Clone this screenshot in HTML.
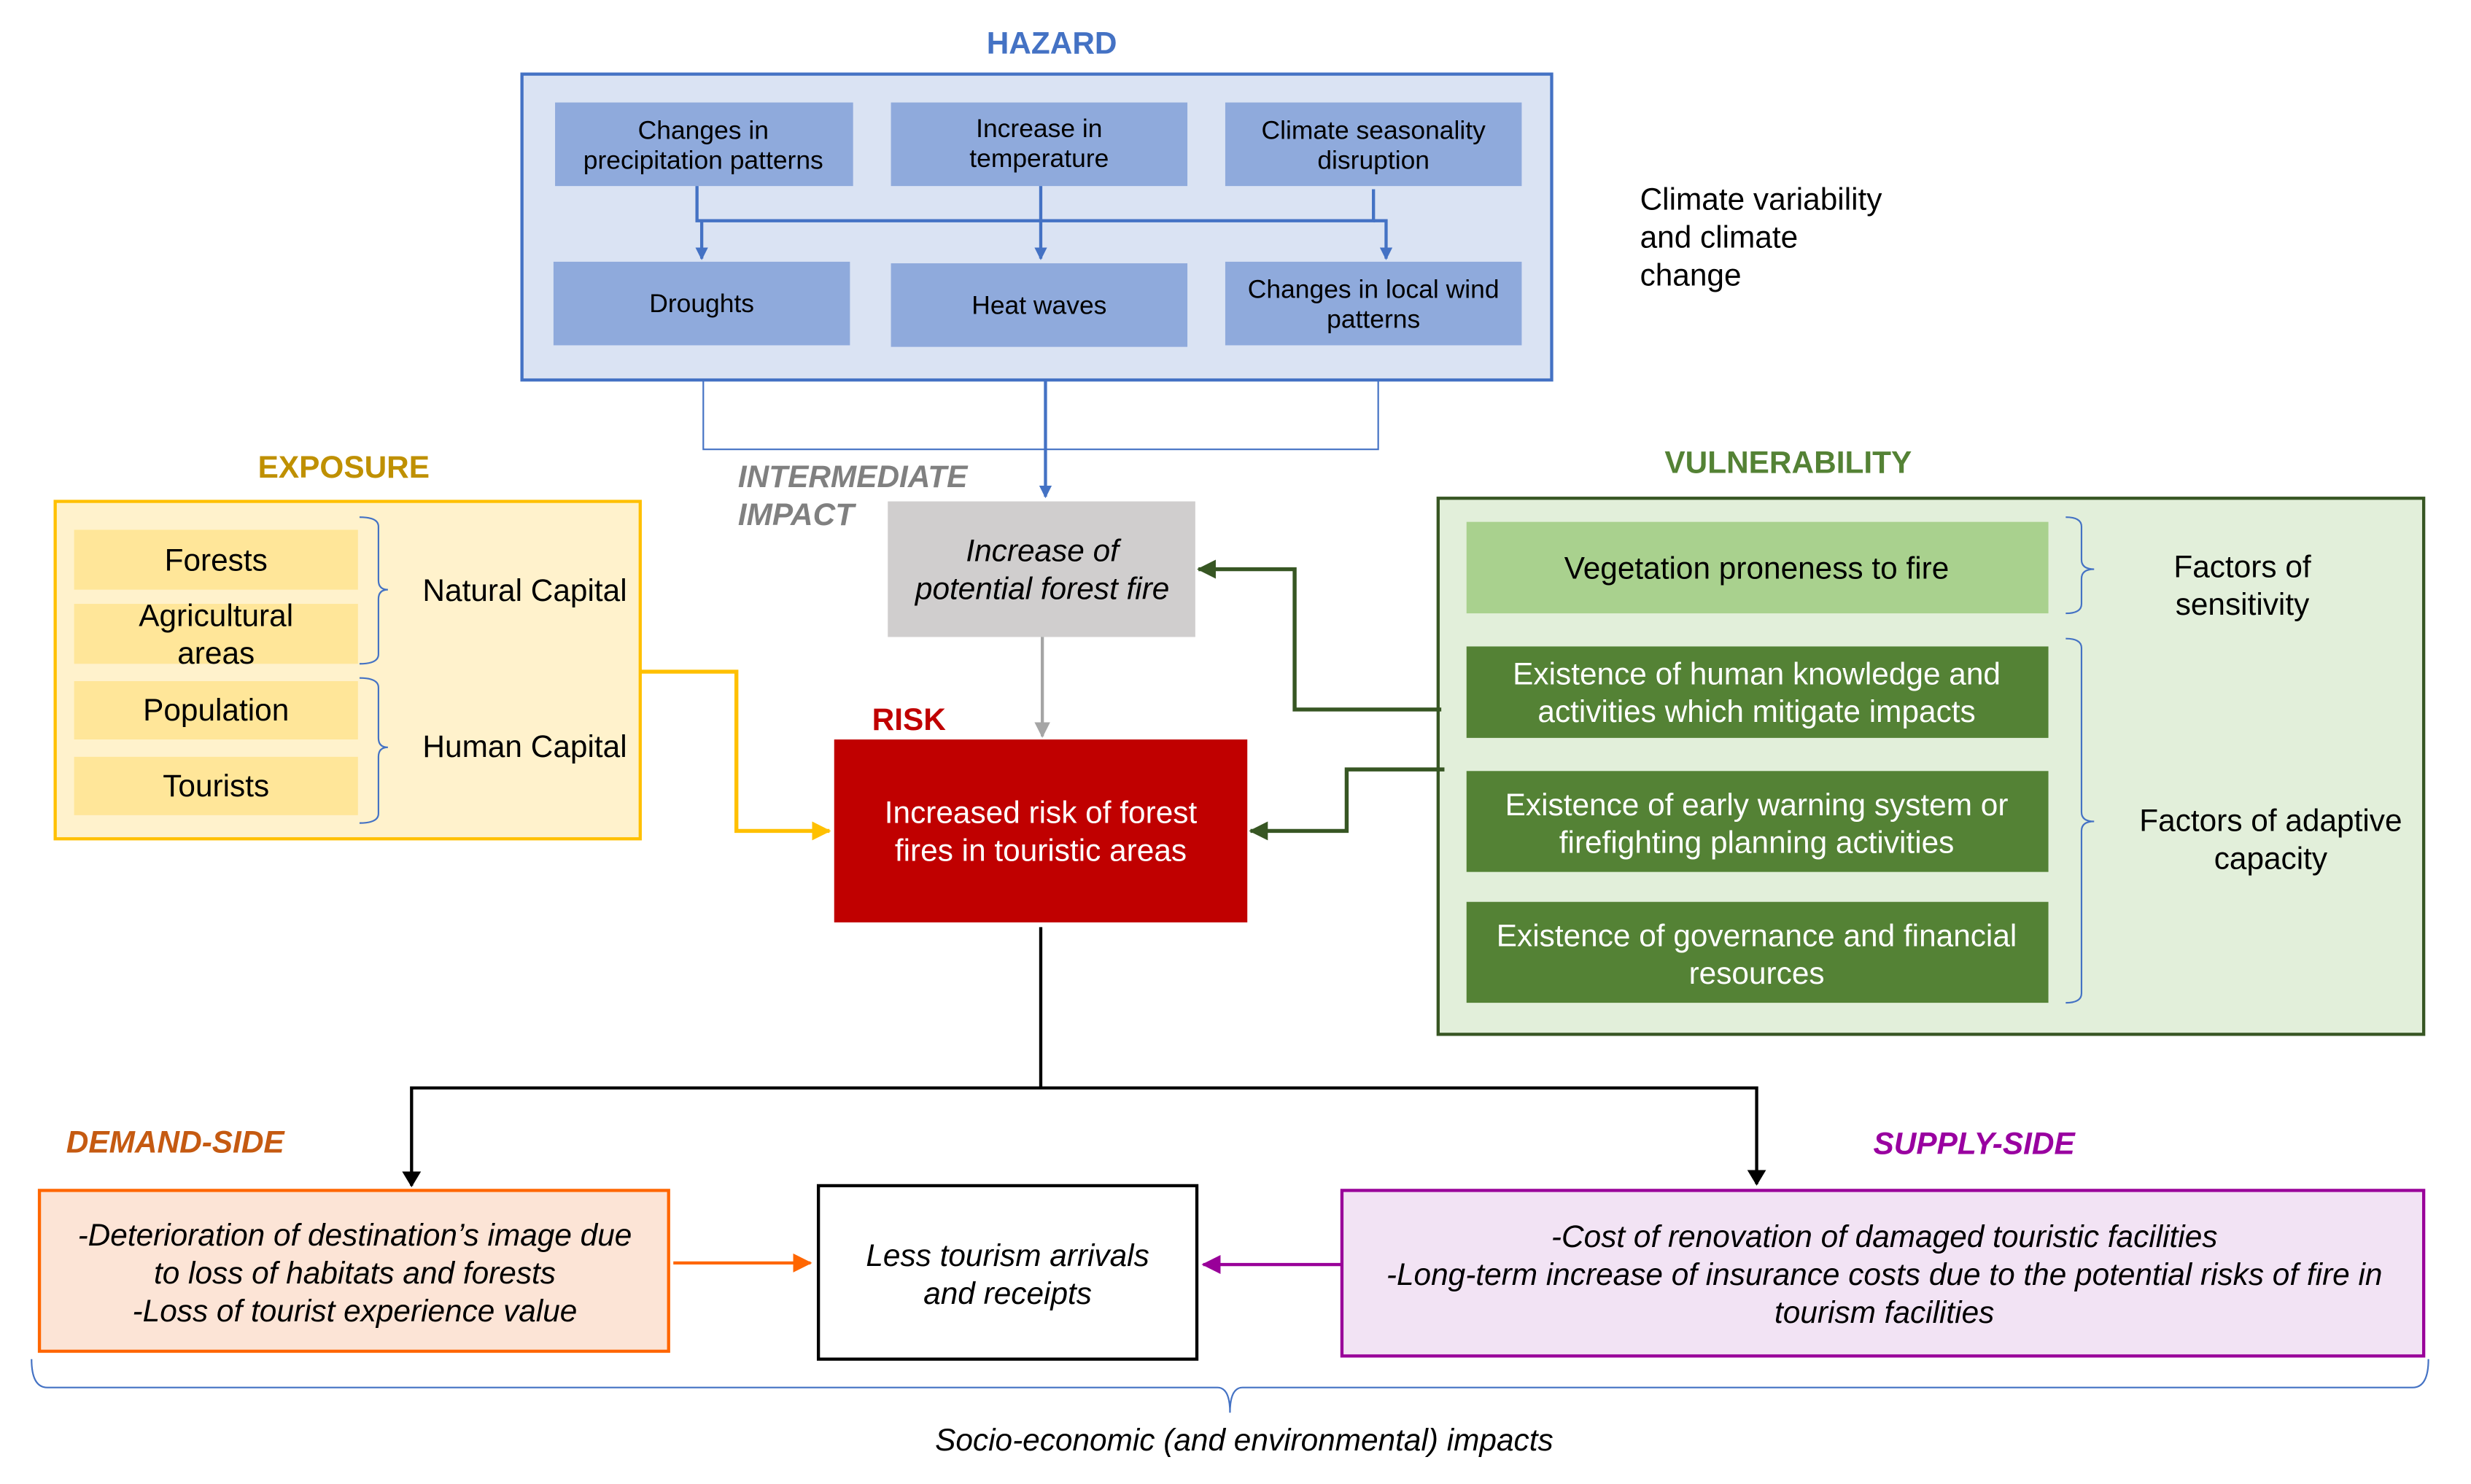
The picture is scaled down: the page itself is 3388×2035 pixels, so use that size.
<!DOCTYPE html>
<html><head><meta charset="utf-8"><style>
html,body{margin:0;padding:0;background:#fff;}
svg{display:block;}
text{font-family:"Liberation Sans",sans-serif;}
</style></head><body>
<svg width="3388" height="2035" viewBox="0 0 1567 941.2" preserveAspectRatio="none" xmlns="http://www.w3.org/2000/svg">
<defs>
<marker id="ab" markerWidth="8" markerHeight="8" refX="7" refY="4" orient="auto" markerUnits="userSpaceOnUse"><path d="M0,0 L8,4 L0,8 z" fill="#4472C4"/></marker>
<marker id="ag" markerWidth="10" markerHeight="10" refX="9" refY="5" orient="auto" markerUnits="userSpaceOnUse"><path d="M0,0 L10,5 L0,10 z" fill="#A5A5A5"/></marker>
<marker id="ay" markerWidth="12" markerHeight="12" refX="11" refY="6" orient="auto" markerUnits="userSpaceOnUse"><path d="M0,0 L12,6 L0,12 z" fill="#FFC000"/></marker>
<marker id="adg" markerWidth="12" markerHeight="12" refX="11" refY="6" orient="auto" markerUnits="userSpaceOnUse"><path d="M0,0 L12,6 L0,12 z" fill="#375623"/></marker>
<marker id="ak" markerWidth="10" markerHeight="12" refX="9" refY="6" orient="auto" markerUnits="userSpaceOnUse"><path d="M0,0 L10,6 L0,12 z" fill="#000"/></marker>
<marker id="ao" markerWidth="12" markerHeight="12" refX="11" refY="6" orient="auto" markerUnits="userSpaceOnUse"><path d="M0,0 L12,6 L0,12 z" fill="#FF6600"/></marker>
<marker id="ap" markerWidth="12" markerHeight="12" refX="11" refY="6" orient="auto" markerUnits="userSpaceOnUse"><path d="M0,0 L12,6 L0,12 z" fill="#990099"/></marker>
</defs>

<!-- HAZARD -->
<text x="667" y="34" text-anchor="middle" font-size="19.6" font-weight="bold" fill="#4472C4">HAZARD</text>
<rect x="331" y="47" width="653" height="194" fill="#DAE3F3" stroke="#4472C4" stroke-width="2"/>
<g fill="#8FAADC">
<rect x="352" y="65" width="189" height="53"/><rect x="565" y="65" width="188" height="53"/><rect x="777" y="65" width="188" height="53"/>
<rect x="351" y="166" width="188" height="53"/><rect x="565" y="167" width="188" height="53"/><rect x="777" y="166" width="188" height="53"/>
</g>
<g font-size="16.4" text-anchor="middle" fill="#000">
<text x="446" y="88">Changes in</text><text x="446" y="107">precipitation patterns</text>
<text x="659" y="87">Increase in</text><text x="659" y="106">temperature</text>
<text x="871" y="88">Climate seasonality</text><text x="871" y="107">disruption</text>
<text x="445" y="198">Droughts</text>
<text x="659" y="199">Heat waves</text>
<text x="871" y="189">Changes in local wind</text><text x="871" y="208">patterns</text>
</g>
<g stroke="#4472C4" stroke-width="2" fill="none">
<path d="M442,118 V140 H871 V120"/>
<path d="M445,140 V164" marker-end="url(#ab)"/>
<path d="M660,118 V164" marker-end="url(#ab)"/>
<path d="M871,140 H879 V164" marker-end="url(#ab)"/>
<path d="M663,241 V315" marker-end="url(#ab)"/>
</g>
<path d="M446,241 V285 H874 V241" stroke="#4472C4" stroke-width="1" fill="none"/>
<g font-size="19.6" fill="#000"><text x="1040" y="133">Climate variability</text><text x="1040" y="157">and climate</text><text x="1040" y="181">change</text></g>

<!-- INTERMEDIATE -->
<g font-size="19.6" font-weight="bold" font-style="italic" fill="#808080"><text x="468" y="309">INTERMEDIATE</text><text x="468" y="333">IMPACT</text></g>
<rect x="563" y="318" width="195" height="86" fill="#D0CECE"/>
<g font-size="19.6" font-style="italic" text-anchor="middle"><text x="661" y="356">Increase of</text><text x="661" y="380">potential forest fire</text></g>
<path d="M661,404 V467" stroke="#A5A5A5" stroke-width="2" marker-end="url(#ag)"/>

<!-- RISK -->
<text x="553" y="463" font-size="19.6" font-weight="bold" fill="#C00000">RISK</text>
<rect x="529" y="469" width="262" height="116" fill="#C00000"/>
<g font-size="19.6" fill="#fff" text-anchor="middle"><text x="660" y="522">Increased risk of forest</text><text x="660" y="546">fires in touristic areas</text></g>

<!-- EXPOSURE -->
<text x="218" y="303" text-anchor="middle" font-size="19.6" font-weight="bold" fill="#BF9000">EXPOSURE</text>
<rect x="35" y="318" width="371" height="214" fill="#FFF2CC" stroke="#FFC000" stroke-width="2"/>
<g fill="#FFE699">
<rect x="47" y="336" width="180" height="38"/><rect x="47" y="383" width="180" height="38"/><rect x="47" y="432" width="180" height="37"/><rect x="47" y="480" width="180" height="37"/>
</g>
<g font-size="19.6" text-anchor="middle">
<text x="137" y="362">Forests</text><text x="137" y="397">Agricultural</text><text x="137" y="421">areas</text>
<text x="137" y="457">Population</text><text x="137" y="505">Tourists</text>
</g>
<g stroke="#4472C4" stroke-width="1" fill="none">
<path d="M228,328 Q240,328 240,334 V368 Q240,374 246,374 Q240,374 240,380 V415 Q240,421 228,421"/>
<path d="M228,430 Q240,430 240,436 V468 Q240,474 246,474 Q240,474 240,480 V516 Q240,522 228,522"/>
</g>
<g font-size="19.6"><text x="268" y="381">Natural Capital</text><text x="268" y="480">Human Capital</text></g>
<path d="M406,426 H467 V527 H526" stroke="#FFC000" stroke-width="2.5" fill="none" marker-end="url(#ay)"/>

<!-- VULNERABILITY -->
<text x="1134" y="300" text-anchor="middle" font-size="19.6" font-weight="bold" fill="#548235">VULNERABILITY</text>
<rect x="912" y="316" width="625" height="340" fill="#E2EFDA" stroke="#375623" stroke-width="2"/>
<rect x="930" y="331" width="369" height="58" fill="#A9D18E"/>
<g fill="#548235"><rect x="930" y="410" width="369" height="58"/><rect x="930" y="489" width="369" height="64"/><rect x="930" y="572" width="369" height="64"/></g>
<text x="1114" y="367" text-anchor="middle" font-size="19.6">Vegetation proneness to fire</text>
<g font-size="19.6" fill="#fff" text-anchor="middle">
<text x="1114" y="434">Existence of human knowledge and</text><text x="1114" y="458">activities which mitigate impacts</text>
<text x="1114" y="517">Existence of early warning system or</text><text x="1114" y="541">firefighting planning activities</text>
<text x="1114" y="600">Existence of governance and financial</text><text x="1114" y="624">resources</text>
</g>
<g stroke="#4472C4" stroke-width="1" fill="none">
<path d="M1310,328 Q1320,328 1320,334 V355 Q1320,361 1328,361 Q1320,361 1320,367 V383 Q1320,389 1310,389"/>
<path d="M1310,405 Q1320,405 1320,411 V515 Q1320,521 1328,521 Q1320,521 1320,527 V630 Q1320,636 1310,636"/>
</g>
<g font-size="19.6" text-anchor="middle"><text x="1422" y="366">Factors of</text><text x="1422" y="390">sensitivity</text><text x="1440" y="527">Factors of adaptive</text><text x="1440" y="551">capacity</text></g>
<g stroke="#375623" stroke-width="2.5" fill="none">
<path d="M914,450 H821 V361 H760" marker-end="url(#adg)"/>
<path d="M916,488 H854 V527 H793" marker-end="url(#adg)"/>
</g>

<!-- bottom -->
<g stroke="#000" stroke-width="2" fill="none">
<path d="M660,588 V690 H261 V752" marker-end="url(#ak)"/>
<path d="M660,690 H1114 V751" marker-end="url(#ak)"/>
</g>
<g font-size="19.6" font-weight="bold" font-style="italic">
<text x="42" y="731" fill="#C55A11">DEMAND-SIDE</text>
<text x="1188" y="732" fill="#9900A0">SUPPLY-SIDE</text>
</g>
<rect x="25" y="755" width="399" height="102" fill="#FCE4D6" stroke="#FF6600" stroke-width="2"/>
<rect x="519" y="752" width="240" height="110" fill="#fff" stroke="#000" stroke-width="2"/>
<rect x="851" y="755" width="686" height="105" fill="#F2E3F4" stroke="#990099" stroke-width="2"/>
<g font-size="19.6" font-style="italic" text-anchor="middle">
<text x="225" y="790">-Deterioration of destination’s image due</text><text x="225" y="814">to loss of habitats and forests</text><text x="225" y="838">-Loss of tourist experience value</text>
<text x="639" y="803">Less tourism arrivals</text><text x="639" y="827">and receipts</text>
<text x="1195" y="791">-Cost of renovation of damaged touristic facilities</text><text x="1195" y="815">-Long-term increase of insurance costs due to the potential risks of fire in</text><text x="1195" y="839">tourism facilities</text>
</g>
<path d="M427,801 H514" stroke="#FF6600" stroke-width="2" marker-end="url(#ao)"/>
<path d="M851,802 H763" stroke="#990099" stroke-width="2" marker-end="url(#ap)"/>
<path d="M20,862 Q20,880 30,880 H772 Q780,880 780,896 Q780,880 788,880 H1530 Q1540,880 1540,862" stroke="#4472C4" stroke-width="1" fill="none"/>
<text x="789" y="920" text-anchor="middle" font-size="19.6" font-style="italic">Socio-economic (and environmental) impacts</text>
</svg>
</body></html>
